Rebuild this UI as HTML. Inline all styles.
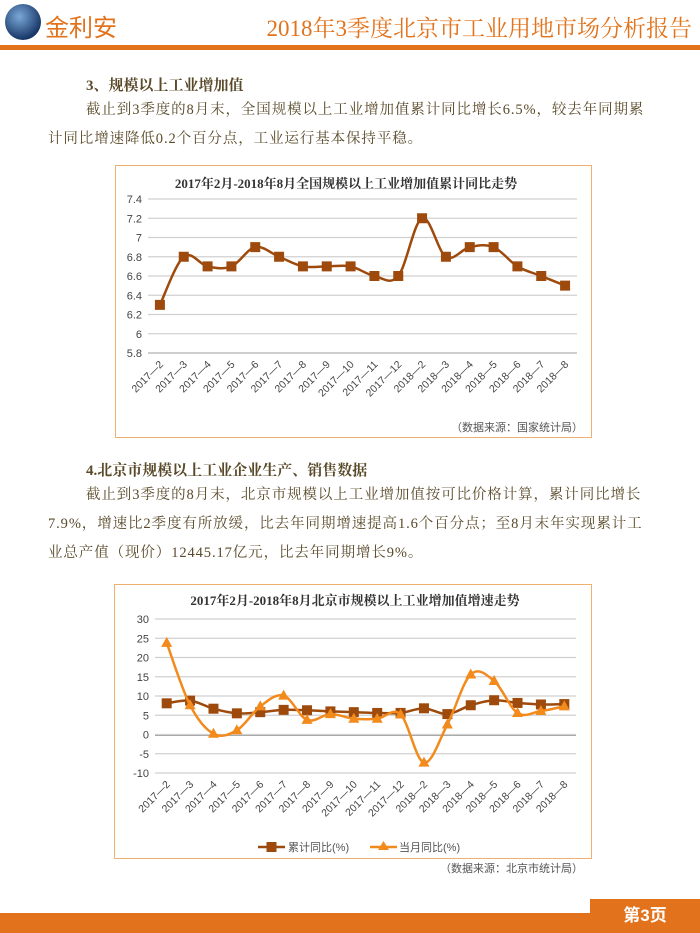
<!DOCTYPE html>
<html><head><meta charset="utf-8"><style>
body{margin:0;width:700px;height:933px;background:#fff;position:relative;overflow:hidden;font-family:"Liberation Serif","Noto Serif CJK SC",serif;}
.abs{position:absolute}
p{margin:0}
.txt{color:#5a4a2a;font-size:14.5px;line-height:29px;white-space:nowrap;letter-spacing:0.9px}
</style></head><body>
<div class="abs" style="left:5px;top:4px;width:36px;height:36px;border-radius:50%;background:radial-gradient(circle at 40% 35%,#7aa8d8,#1a3a6a 70%,#0a1a33);"></div>
<div class="abs" style="left:45px;top:8px;font-size:24px;color:#e2731c;font-family:'Liberation Sans','Noto Sans CJK SC',sans-serif;">金利安</div>
<div class="abs" style="right:8px;top:10px;font-size:23px;color:#e2731c;">2018年3季度北京市工业用地市场分析报告</div>
<div class="abs" style="left:0;top:45px;width:700px;height:5px;background:#e2731c"></div>

<div class="abs" style="left:86px;top:74px;font-size:15px;font-weight:bold;color:#5a4a2a;">3、规模以上工业增加值</div>
<div class="abs txt" style="left:48px;top:96px;"><span style="padding-left:38px"></span>截止到3季度的8月末，全国规模以上工业增加值累计同比增长6.5%，较去年同期累<br>计同比增速降低0.2个百分点，工业运行基本保持平稳。</div>

<svg class="abs" style="left:0;top:0" width="700" height="933" id="svg">
<rect x="115.5" y="165.5" width="476" height="272" fill="#fff" stroke="#f0b070"/>
<text x="346" y="188" text-anchor="middle" font-size="13" font-weight="bold" fill="#333">2017年2月-2018年8月全国规模以上工业增加值累计同比走势</text>
<g id="c1"></g>
<text x="583" y="431" text-anchor="end" font-size="11" fill="#555" font-family="Liberation Sans,Noto Sans CJK SC,sans-serif">（数据来源：国家统计局）</text>
<rect x="114.5" y="584.5" width="477" height="274" fill="#fff" stroke="#f0b070"/>
<text x="355" y="605" text-anchor="middle" font-size="13" font-weight="bold" fill="#333">2017年2月-2018年8月北京市规模以上工业增加值增速走势</text>
<g id="c2"></g>
<text x="583" y="872" text-anchor="end" font-size="11" fill="#555" font-family="Liberation Sans,Noto Sans CJK SC,sans-serif">（数据来源：北京市统计局）</text>
</svg>

<div class="abs" style="left:86px;top:459px;font-size:15px;font-weight:bold;color:#5a4a2a;">4.北京市规模以上工业企业生产、销售数据</div>
<div class="abs txt" style="left:48px;top:481px;"><span style="padding-left:38px"></span>截止到3季度的8月末，北京市规模以上工业增加值按可比价格计算，累计同比增长<br>7.9%，增速比2季度有所放缓，比去年同期增速提高1.6个百分点；至8月末年实现累计工<br>业总产值（现价）12445.17亿元，比去年同期增长9%。</div>

<div class="abs" style="left:0;top:913px;width:700px;height:20px;background:#e2731c"></div>
<div class="abs" style="left:590px;top:899px;width:110px;height:34px;background:#e2731c;color:#fff;font-weight:bold;font-size:17px;font-family:'Liberation Sans','Noto Sans CJK SC',sans-serif;text-align:center;line-height:34px;">第3页</div>

<script>
const categories=["2017—2","2017—3","2017—4","2017—5","2017—6","2017—7","2017—8","2017—9","2017—10","2017—11","2017—12","2018—2","2018—3","2018—4","2018—5","2018—6","2018—7","2018—8"];
const nationalCum=[6.3,6.8,6.7,6.7,6.9,6.8,6.7,6.7,6.7,6.6,6.6,7.2,6.8,6.9,6.9,6.7,6.6,6.5];
const ticks1=[5.8,6,6.2,6.4,6.6,6.8,7,7.2,7.4];
const bjCum=[8.1,8.8,6.7,5.5,5.8,6.4,6.3,6.0,5.8,5.6,5.6,6.8,5.3,7.6,8.9,8.2,7.8,7.9];
const bjMonth=[23.8,7.6,0.2,1.1,7.3,10.1,3.8,5.3,4.1,4.1,5.2,-7.3,2.6,15.6,13.9,5.6,6.1,7.3];
const ticks2=[-10,-5,0,5,10,15,20,25,30];
const NS="http://www.w3.org/2000/svg";
function mk(tag,attrs,parent){const e=document.createElementNS(NS,tag);for(const k in attrs)e.setAttribute(k,attrs[k]);parent.appendChild(e);return e;}
function smooth(pts){let d="M"+pts[0][0]+","+pts[0][1];for(let i=0;i<pts.length-1;i++){const p0=pts[Math.max(i-1,0)],p1=pts[i],p2=pts[i+1],p3=pts[Math.min(i+2,pts.length-1)];const t=0.17;d+=" C"+(p1[0]+(p2[0]-p0[0])*t)+","+(p1[1]+(p2[1]-p0[1])*t)+" "+(p2[0]-(p3[0]-p1[0])*t)+","+(p2[1]-(p3[1]-p1[1])*t)+" "+p2[0]+","+p2[1];}return d;}
function axes(g,cfg){
  const {x0,x1,yTop,yBot,min,max,ticks}=cfg;
  const step=(x1-x0)/categories.length;
  const X=i=>x0+step*(i+0.5);
  const Y=v=>yBot-(v-min)/(max-min)*(yBot-yTop);
  ticks.forEach(t=>{
    const l=mk('line',{x1:x0,x2:x1,y1:Y(t),y2:Y(t),stroke:'#d0d0d0','stroke-width':1.3},g);
    
    
    const tx=mk('text',{x:x0-6,y:Y(t)+4,'text-anchor':'end','font-size':11,fill:'#444','font-family':'Liberation Sans,sans-serif'},g);
    tx.textContent=t;
    
    
  });
  const ax=mk('line',{x1:x0,x2:x1,y1:cfg.axisY,y2:cfg.axisY,stroke:'#aaa'},g);
  
  
  categories.forEach((c,i)=>{
    const tx=mk('text',{x:X(i)+4,y:yBot+12,'text-anchor':'end','font-size':10.5,fill:'#444','font-family':'Liberation Sans,sans-serif',transform:`rotate(-45 ${X(i)+4} ${yBot+12})`},g);
    tx.textContent=c;
    
    
  });
  return {X,Y};
}
function series(g,vals,X,Y,color,shape,name){
  const pts=vals.map((v,i)=>[X(i),Y(v)]);
  const p=mk('path',{d:smooth(pts),fill:'none',stroke:color,'stroke-width':2.5},g);
  
  
  pts.forEach(q=>{
    let m;
    if(shape==='sq') m=mk('rect',{x:q[0]-5,y:q[1]-5,width:10,height:10,fill:color},g);
    else m=mk('polygon',{points:`${q[0]},${q[1]-6} ${q[0]+5.5},${q[1]+4} ${q[0]-5.5},${q[1]+4}`,fill:color},g);
    
    
  });
}
const g1=document.getElementById('c1');
const a1=axes(g1,{x0:148,x1:577,yTop:199,yBot:353,min:5.8,max:7.4,ticks:ticks1,axisY:353});
series(g1,nationalCum,a1.X,a1.Y,'#9e4a0c','sq','national-cumulative');
const g2=document.getElementById('c2');
const a2=axes(g2,{x0:155,x1:576,yTop:619,yBot:773,min:-10,max:30,ticks:ticks2,axisY:735.5});
series(g2,bjCum,a2.X,a2.Y,'#9e4a0c','sq','beijing-cumulative');
series(g2,bjMonth,a2.X,a2.Y,'#f28a1c','tri','beijing-monthly');
const lg=document.getElementById('c2');
let l1=mk('line',{x1:258,x2:285,y1:847,y2:847,stroke:'#9e4a0c','stroke-width':2.5},lg);


let r1=mk('rect',{x:266.5,y:842,width:10,height:10,fill:'#9e4a0c'},lg);


let t1=mk('text',{x:288,y:851,'font-size':11,fill:'#555','font-family':'Liberation Sans,Noto Sans CJK SC,sans-serif'},lg);
t1.textContent='累计同比(%)';


let l2=mk('line',{x1:370,x2:397,y1:847,y2:847,stroke:'#f28a1c','stroke-width':2.5},lg);


let r2=mk('polygon',{points:'383.5,841 389,850 378,850',fill:'#f28a1c'},lg);


let t2=mk('text',{x:399,y:851,'font-size':11,fill:'#555','font-family':'Liberation Sans,Noto Sans CJK SC,sans-serif'},lg);
t2.textContent='当月同比(%)';


</script>
</body></html>
